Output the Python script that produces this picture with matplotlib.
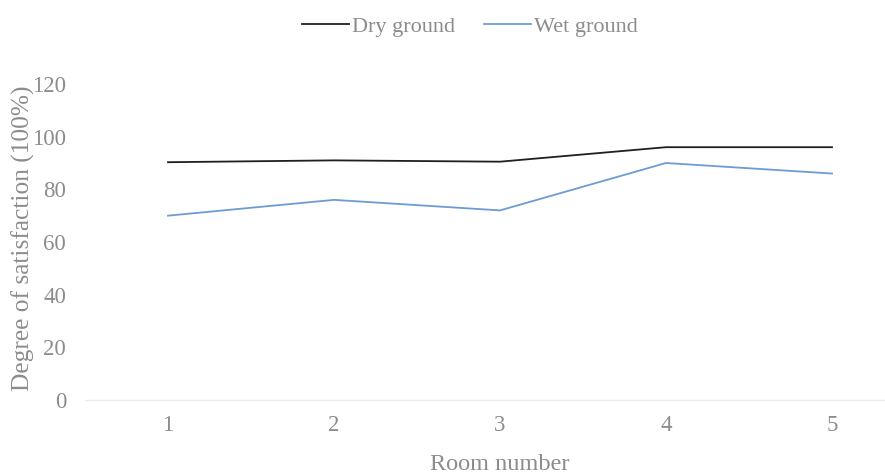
import matplotlib
matplotlib.use("Agg")
import matplotlib.pyplot as plt

rooms = [1, 2, 3, 4, 5]
dry_ground = [90.3, 91.0, 90.5, 96.0, 96.0]
wet_ground = [70.0, 76.0, 72.0, 90.0, 86.0]
y_ticks = [0, 20, 40, 60, 80, 100, 120]

plt.rcParams["font.family"] = ["Liberation Serif", "DejaVu Serif"]
text_gray = "#8c8c8c"

fig = plt.figure(figsize=(8.85, 4.76), dpi=100)
# plot area runs slightly past the right edge of the canvas
ax = fig.add_axes([85 / 885, 76 / 476, 830 / 885, 316 / 476])

ax.plot(rooms, dry_ground, color="#1f1f1f", lw=1.3, label="Dry ground")
ax.plot(rooms, wet_ground, color="#6d9bd6", lw=1.3, label="Wet ground")

ax.set_xlim(0.5, 5.5)
ax.set_ylim(0, 120)
ax.set_yticks(y_ticks)
ax.set_xticks(rooms)

for side in ("top", "right", "left"):
    ax.spines[side].set_visible(False)
ax.spines["bottom"].set_color("#ececec")
ax.spines["bottom"].set_linewidth(1.0)
ax.tick_params(axis="both", length=0, labelsize=16.5, labelcolor=text_gray)
ax.tick_params(axis="y", pad=13.5)
ax.tick_params(axis="x", pad=11)

ax.set_xlabel("Room number", fontsize=17.5, color=text_gray, labelpad=13)
ax.set_ylabel("Degree of satisfaction (100%)", fontsize=18.3, color=text_gray, labelpad=0)
ax.yaxis.set_label_coords(35 / 885, 0.5, transform=fig.transFigure)

leg = ax.legend(loc="center", bbox_to_anchor=(470 / 885, 1 - 27 / 476),
                bbox_transform=fig.transFigure, ncol=2, frameon=False,
                fontsize=16, handlelength=2.1, handletextpad=0.15, columnspacing=1.3)
for t in leg.get_texts():
    t.set_color(text_gray)

fig.savefig("out.png", dpi=100, facecolor="white")
